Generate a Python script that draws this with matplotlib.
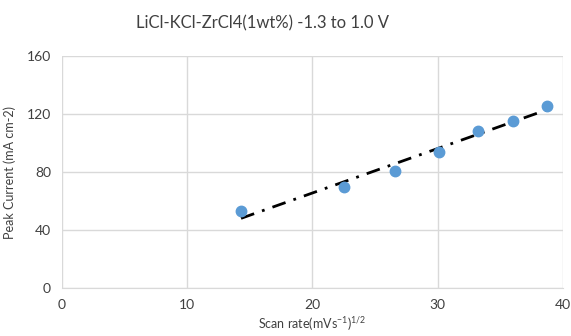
import numpy as np
import matplotlib.pyplot as plt

# data
scan_rate = [14.3, 22.5, 26.6, 30.1, 33.2, 36.0, 38.7]
peak_current = [53.0, 70.0, 80.5, 94.0, 108.5, 115.5, 125.5]
x_ticks = [0, 10, 20, 30, 40]
y_ticks = [0, 40, 80, 120, 160]

plt.rcParams['font.family'] = ['Lato', 'DejaVu Sans']
plt.rcParams['mathtext.fontset'] = 'custom'
plt.rcParams['mathtext.rm'] = 'Lato'

fig = plt.figure(figsize=(5.71, 3.36), dpi=100)
ax = fig.add_axes([0.1086, 0.143, 0.877, 0.690])

# linear trend line
coef = np.polyfit(scan_rate, peak_current, 1)
xs = np.array([min(scan_rate), max(scan_rate)])
ax.plot(xs, np.polyval(coef, xs), color='black', lw=2, dashes=(5, 3, 1, 3), zorder=2)

ax.plot(scan_rate, peak_current, 'o', color='#5b9bd5', markersize=7.5, zorder=3)

ax.set_xlim(0, 40)
ax.set_ylim(0, 160)
ax.set_xticks(x_ticks)
ax.set_yticks(y_ticks)
ax.grid(True, color='#d9d9d9', lw=1)
ax.set_axisbelow(True)
for s in ['top', 'right', 'left']:
    ax.spines[s].set_visible(False)
ax.spines['bottom'].set_color('#d9d9d9')
ax.tick_params(length=0, labelsize=10, colors='#404040', pad=8)

fig.text(262 / 571, 1 - 23 / 336, 'LiCl-KCl-ZrCl4(1wt%) -1.3 to 1.0 V',
         fontsize=12, color='#404040', ha='center', va='center')
ax.set_ylabel('Peak Current (mA cm-2)', fontsize=9, color='#404040', labelpad=8)
ax.set_xlabel('Scan rate(mVs$^{\\mathrm{-1}}$)$^{\\mathrm{1/2}}$', fontsize=9, color='#404040', labelpad=3)

fig.savefig('out.png', dpi=100)
